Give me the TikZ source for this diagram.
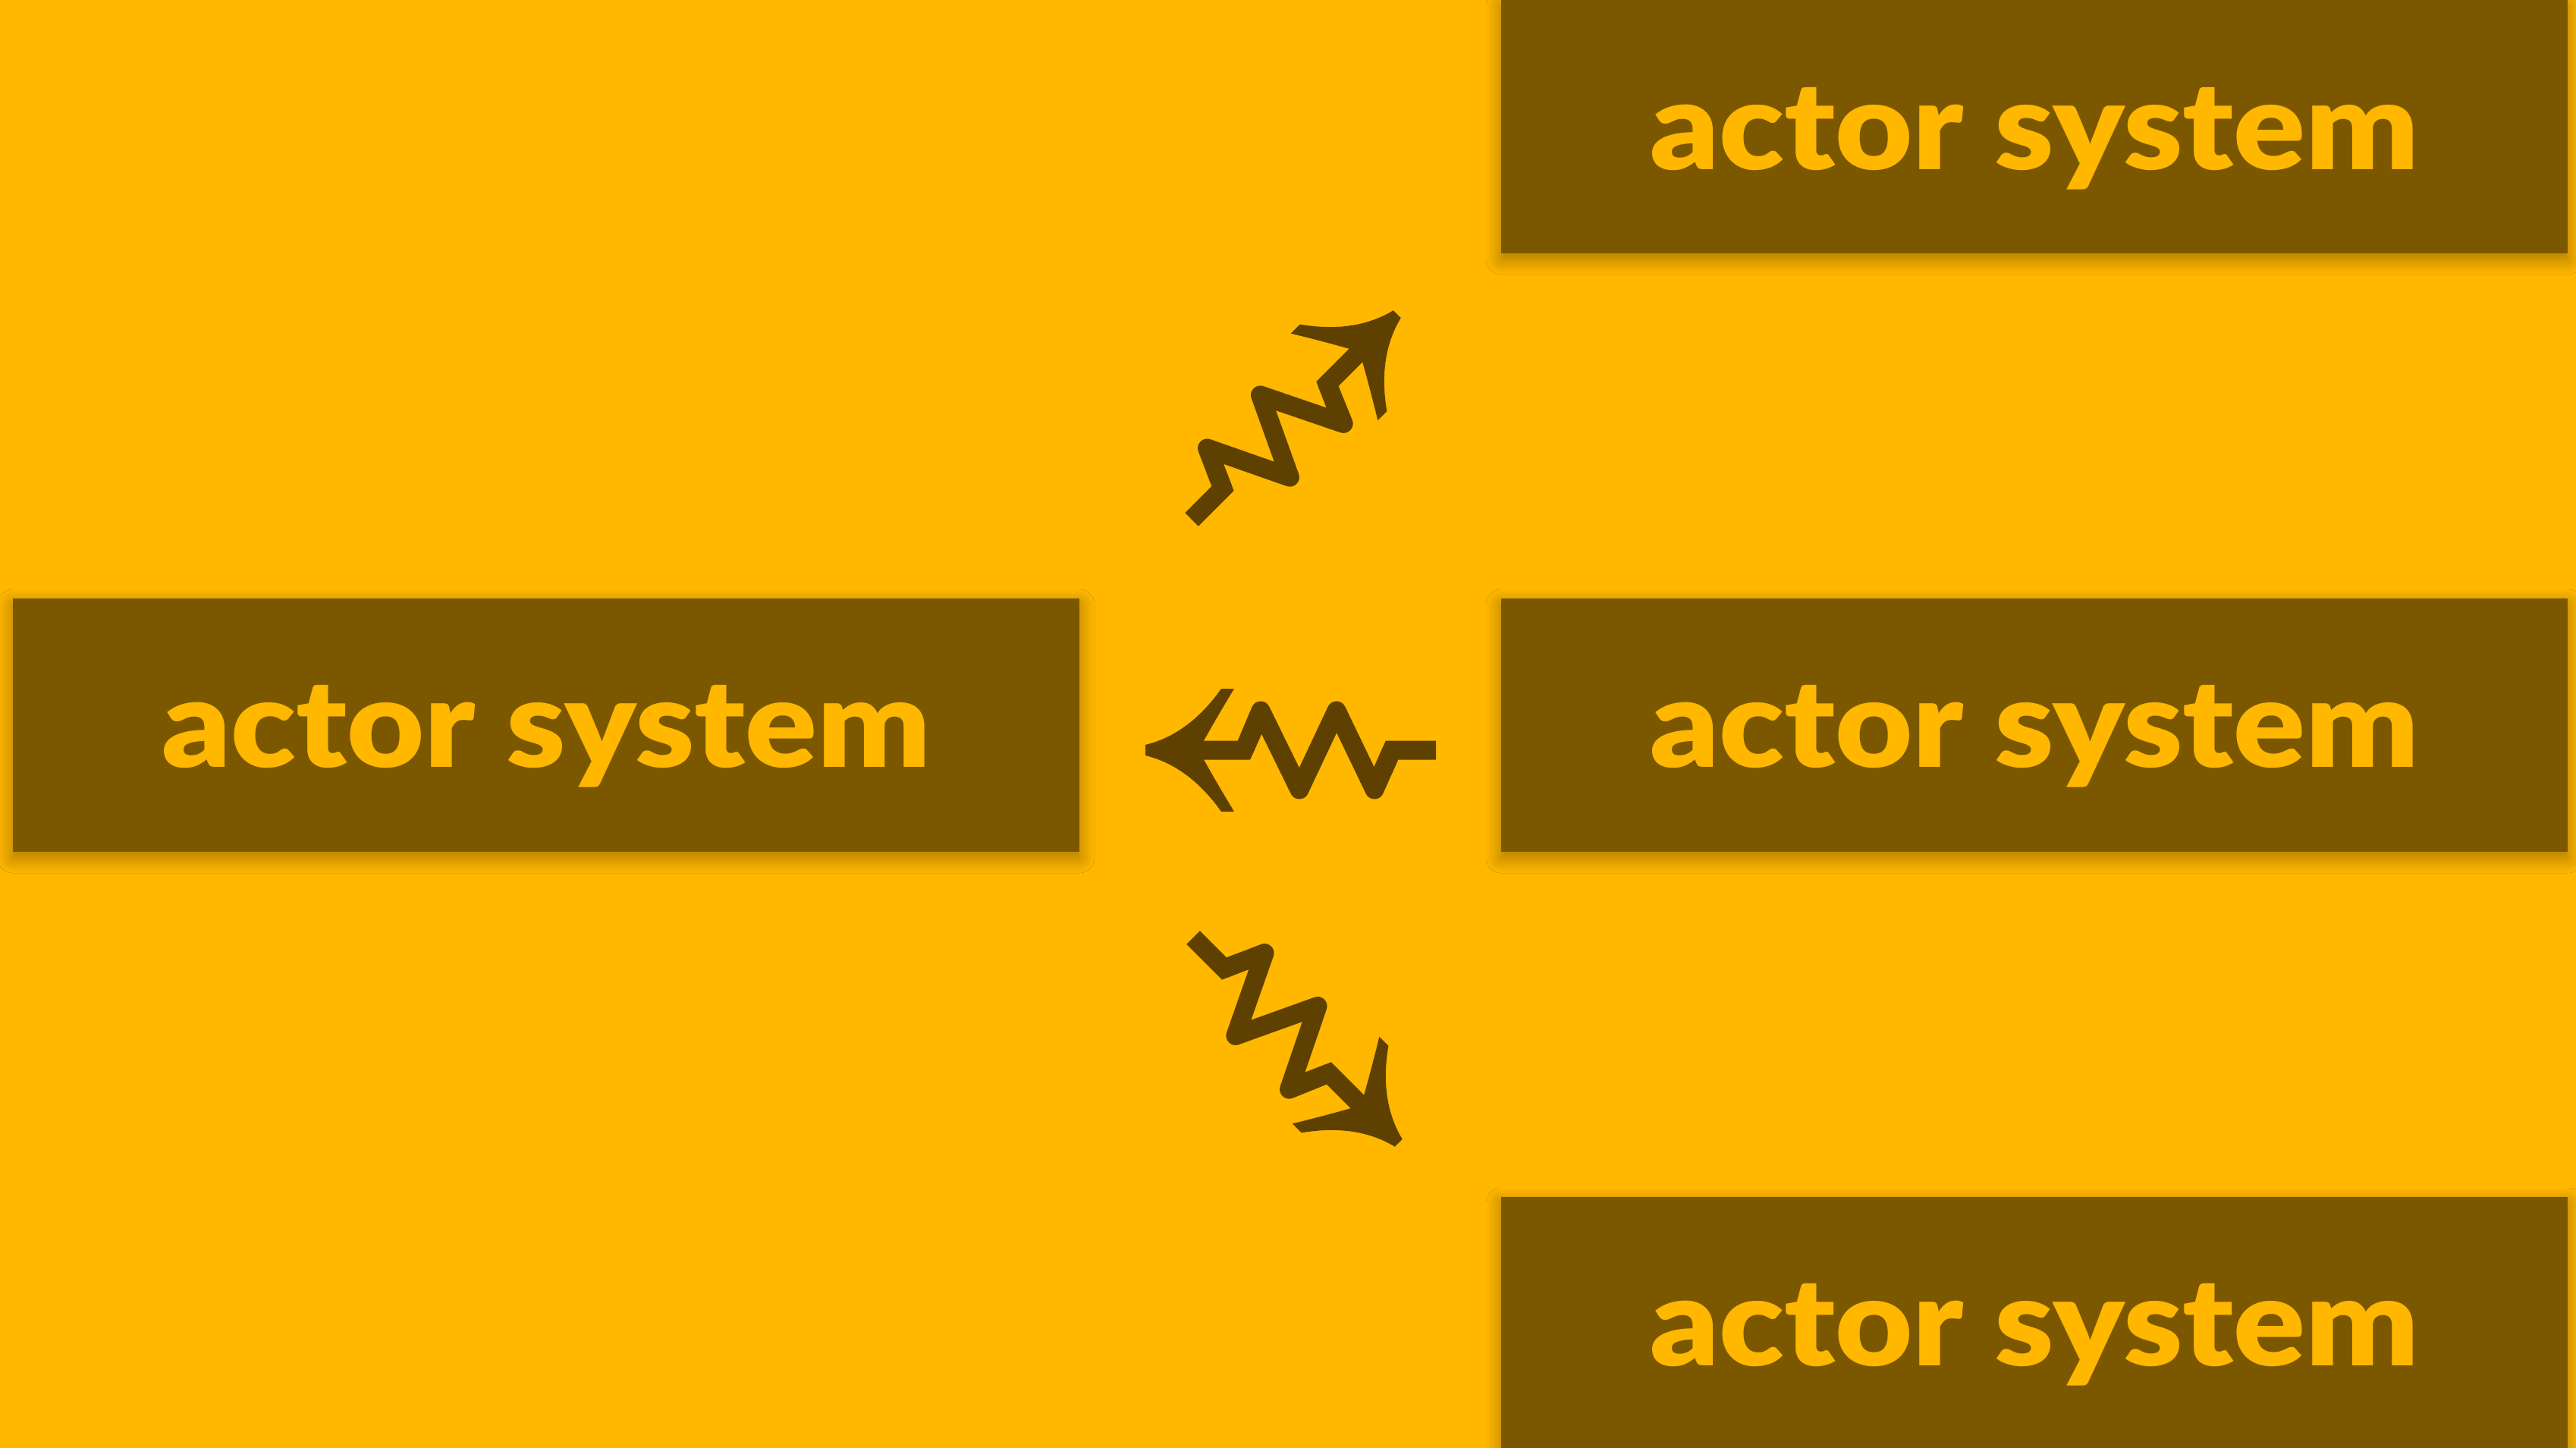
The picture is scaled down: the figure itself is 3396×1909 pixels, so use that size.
\documentclass[tikz,border=0pt]{standalone}
\usepackage{fontspec}
\newfontfamily\labelfont[FakeStretch=1.09]{Lato Black}
\usetikzlibrary{shadows.blur}

\definecolor{bg}{RGB}{255,183,0}
\definecolor{boxfill}{RGB}{123,88,0}
\definecolor{zapcol}{RGB}{94,65,0}

\tikzset{
  sysbox/.style={rectangle, fill=boxfill, draw=none, inner sep=0pt, outer sep=0pt,
    minimum width=140.6mm, minimum height=33.4mm,
    blur shadow={shadow xshift=0pt, shadow yshift=-0.8mm, shadow blur radius=2mm,
      shadow blur steps=12, shadow opacity=35}},
  systext/.style={text=bg, font=\labelfont\fontsize{46}{55}\selectfont, anchor=base, inner sep=0pt},
  % lightning-bolt message arrow, tail at the origin, pointing along +x
  zap/.pic={
    \draw[zapcol, line width=2.5mm, line join=miter, line cap=butt]
      (0,0) -- (58,0) -- (70,-27);
    \draw[zapcol, line width=2.5mm, line join=round, line cap=butt]
      (58,0) -- (81,-52) -- (131,52) -- (180,-52) -- (231,52) -- (253,0);
    \draw[zapcol, line width=2.5mm, line join=miter, line cap=butt]
      (241,27) -- (253,0) -- (312,0);
    \fill[zapcol] (383,-7)
      .. controls (346,-16) and (312,-40) .. (283,-81)
      -- (266,-81)
      .. controls (280,-58) and (294,-34) .. (306,-12.5)
      -- (306,12.5)
      .. controls (294,34) and (280,58) .. (266,81)
      -- (283,81)
      .. controls (312,40) and (346,16) .. (383,7)
      -- cycle;
  }
}

\begin{document}
\begin{tikzpicture}[x=0.1mm, y=-0.1mm]
  \useasboundingbox (0,0) rectangle (3396,1909);
  \fill[bg] (0,0) rectangle (3396,1909);

  % actor systems
  \node[sysbox] (top) at (2682,167) {};
  \node[sysbox] (mid) at (2682,956) {};
  \node[sysbox] (left) at (720,956) {};
  \node[sysbox] (bot) at (2682,1745) {};

  \node[systext] (toplbl) at ([yshift=-22.3mm]top.north) {actor system};
  \node[systext] (midlbl) at ([yshift=-22.2mm]mid.north) {actor system};
  \node[systext] (leftlbl) at ([yshift=-22.2mm]left.north) {actor system};
  \node[systext] (botlbl) at ([yshift=-22.2mm]bot.north) {actor system};

  % messages between the systems
  \pic[rotate=45] (zaptop) at (1571,685) {zap};
  \pic[rotate=180] (zapmid) at (1893,989) {zap};
  \pic[rotate=-45] (zapbot) at (1573,1236) {zap};
\end{tikzpicture}
\end{document}
